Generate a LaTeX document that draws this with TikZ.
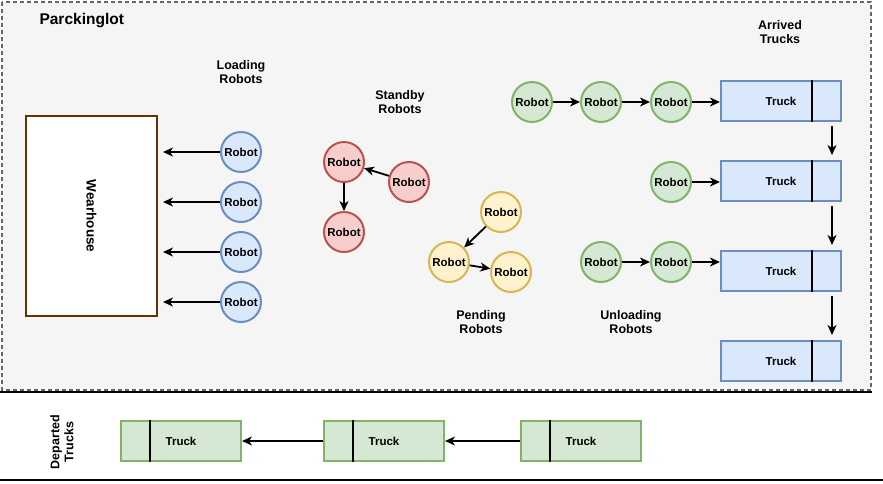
\documentclass[tikz,border=0pt]{standalone}
\usepackage{fontspec}
\setmainfont{Liberation Sans}
\usetikzlibrary{arrows,arrows.meta,positioning,shapes,calc}
\definecolor{lotfill}{HTML}{F5F5F5}
\definecolor{lotline}{HTML}{666666}
\definecolor{bluefill}{HTML}{DAE8FC}
\definecolor{blueline}{HTML}{6C8EBF}
\definecolor{redfill}{HTML}{F8CECC}
\definecolor{redline}{HTML}{B85450}
\definecolor{yelfill}{HTML}{FFF2CC}
\definecolor{yelline}{HTML}{D6B656}
\definecolor{grnfill}{HTML}{D5E8D4}
\definecolor{grnline}{HTML}{82B366}
\definecolor{brownline}{HTML}{663300}

\begin{document}
\begin{tikzpicture}[x=1pt, y=-1pt, >={Stealth[length=10pt,width=9pt,inset=3pt]},
  robot/.style={circle,draw,line width=2pt,minimum size=40pt,inner sep=0pt,font=\fontsize{11.5}{12}\selectfont\bfseries},
  truck/.style={rectangle,draw,line width=2pt,minimum width=120pt,minimum height=40pt,inner sep=0pt,font=\fontsize{11.5}{12}\selectfont\bfseries},
  label/.style={align=center,font=\fontsize{12.5}{14}\selectfont\bfseries},
  arr/.style={->,line width=1.8pt}]
\useasboundingbox (0,0) rectangle (883,483);
% parking lot area
\draw[lotline,fill=lotfill,line width=1.6pt,dash pattern=on 4pt off 3pt] (2,2) rectangle (871,390);
\draw[line width=2pt] (0,392) -- (872,392);
\draw[line width=2pt] (0,480) -- (883,480);

\begin{scope}[every node/.style={label}]
\node[anchor=west,font=\fontsize{15.5}{17}\selectfont\bfseries] (lot) at (36,21) {Parckinglot};
\node (lload) at (241,72) {Loading\\Robots};
\node (lstand) at (400,102) {Standby\\Robots};
\node (lpend) at (481,322) {Pending\\Robots};
\node (lunload) at (631,322) {Unloading\\Robots};
\node (larr) at (780,32) {Arrived\\Trucks};
\node[rotate=90] (ldep) at (62,442) {Departed\\Trucks};
\end{scope}

\node[draw=brownline,fill=white,line width=2pt,rotate=-90,minimum width=200pt,minimum height=131pt,font=\fontsize{13.5}{14}\selectfont\bfseries] (wh) at (91.5,216) {Wearhouse};

\begin{scope}[every node/.style={robot,draw=blueline,fill=bluefill}]
\node (lr1) at (241,152) {Robot};
\node (lr2) at (241,202) {Robot};
\node (lr3) at (241,252) {Robot};
\node (lr4) at (241,302) {Robot};
\end{scope}
\begin{scope}[every node/.style={robot,draw=redline,fill=redfill}]
\node (sr1) at (344,162) {Robot};
\node (sr2) at (409,182) {Robot};
\node (sr3) at (344,232) {Robot};
\end{scope}
\begin{scope}[every node/.style={robot,draw=yelline,fill=yelfill}]
\node (pr1) at (501,212) {Robot};
\node (pr2) at (449,262) {Robot};
\node (pr3) at (511,272) {Robot};
\end{scope}
\begin{scope}[every node/.style={robot,draw=grnline,fill=grnfill}]
\node (ur1) at (532,102) {Robot};
\node (ur2) at (601,102) {Robot};
\node (ur3) at (671,102) {Robot};
\node (ur4) at (671,182) {Robot};
\node (ur5) at (601,262) {Robot};
\node (ur6) at (671,262) {Robot};
\end{scope}
\begin{scope}[every node/.style={truck,draw=blueline,fill=bluefill}]
\node (t1) at (781,101) {Truck};
\node (t2) at (781,181) {Truck};
\node (t3) at (781,271) {Truck};
\node (t4) at (781,361) {Truck};
\end{scope}
\begin{scope}[every node/.style={truck,draw=grnline,fill=grnfill}]
\node (d1) at (181,441) {Truck};
\node (d2) at (384,441) {Truck};
\node (d3) at (581,441) {Truck};
\end{scope}

\begin{scope}[line width=1.5pt]
\foreach \t in {t1,t2,t3,t4}
  \draw ([xshift=-30pt]\t.north east) -- ([xshift=-30pt]\t.south east);
\foreach \t in {d1,d2,d3}
  \draw ([xshift=30pt]\t.north west) -- ([xshift=30pt]\t.south west);
\end{scope}

\begin{scope}[arr]
\foreach \r in {lr1,lr2,lr3,lr4}
  \draw[shorten >=5pt] (\r.west) -- (\r.west -| wh.north);
\draw (sr2) -- (sr1);
\draw (sr1) -- (sr3);
\draw (pr1) -- (pr2);
\draw (pr2) -- (pr3);
\draw (ur1) -- (ur2);
\draw (ur2) -- (ur3);
\draw (ur3) -- (ur3 -| t1.west);
\draw (ur4) -- (ur4 -| t2.west);
\draw (ur5) -- (ur6);
\draw (ur6) -- (ur6 -| t3.west);
\draw[shorten <=4pt,shorten >=5pt] ([xshift=-10pt]t1.south east) -- ([xshift=-10pt]t2.north east);
\draw[shorten <=4pt,shorten >=5pt] ([xshift=-10pt]t2.south east) -- ([xshift=-10pt]t3.north east);
\draw[shorten <=4pt,shorten >=5pt] ([xshift=-10pt]t3.south east) -- ([xshift=-10pt]t4.north east);
\draw (d3) -- (d2);
\draw (d2) -- (d1);
\end{scope}
\end{tikzpicture}
\end{document}
